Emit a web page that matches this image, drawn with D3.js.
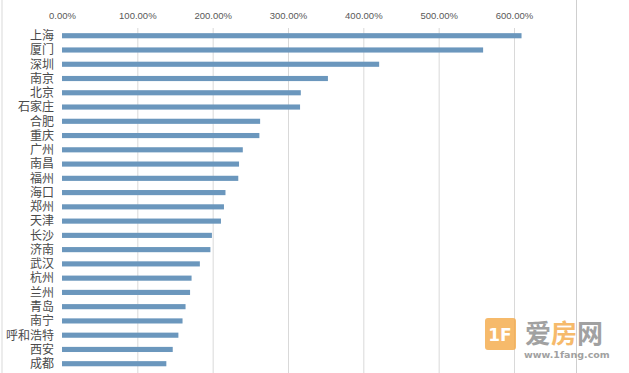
<!DOCTYPE html>
<html>
<head>
<meta charset="utf-8">
<script src="https://cdn.jsdelivr.net/npm/d3@7"></script>
<style>
  body { margin: 0; background: #fff; }
  svg { display: block; }
</style>
</head>
<body>
<div id="chart_container"></div>
<script>
var cities = ["上海", "厦门", "深圳", "南京", "北京", "石家庄", "合肥", "重庆", "广州", "南昌",
    "福州", "海口", "郑州", "天津", "长沙", "济南", "武汉", "杭州", "兰州", "青岛",
    "南宁", "呼和浩特", "西安", "成都"];
var growth = [6.10, 5.59, 4.21, 3.53, 3.17, 3.16, 2.63, 2.62, 2.40, 2.35,
    2.34, 2.17, 2.15, 2.11, 1.99, 1.97, 1.83, 1.72, 1.70, 1.64,
    1.60, 1.545, 1.47, 1.385];
var ticks = [0, 1, 2, 3, 4, 5, 6];

var width = 629, height = 373;

var svg = d3.select("#chart_container").append("svg")
    .attr("width", width)
    .attr("height", height);

var x = d3.scaleLinear()
    .domain([0, 6])
    .range([62, 514]);

var y = d3.scaleBand()
    .domain(cities)
    .range([28.6, 28.6 + 14.26 * cities.length])
    .paddingInner(0.64)
    .paddingOuter(0.32);

// chart frame
svg.append("line")
    .attr("x1", 2).attr("x2", 2)
    .attr("y1", 0).attr("y2", height)
    .attr("stroke", "#d9d9d9");
svg.append("line")
    .attr("x1", 576.5).attr("x2", 576.5)
    .attr("y1", 0).attr("y2", height)
    .attr("stroke", "#cfcfcf");

// gridlines
svg.append("g")
    .selectAll("line")
    .data(ticks.slice(1))
    .enter().append("line")
    .attr("x1", function(d) { return x(d) + 0.5; })
    .attr("x2", function(d) { return x(d) + 0.5; })
    .attr("y1", 28)
    .attr("y2", height)
    .attr("stroke", "#d9d9d9");

// top axis labels
var axis = d3.axisTop(x)
    .tickValues(ticks)
    .tickSize(0)
    .tickPadding(0)
    .tickFormat(function(d) { return (d * 100).toFixed(2) + "%"; });
var axisG = svg.append("g")
    .attr("transform", "translate(0,19)")
    .call(axis);
axisG.select(".domain").remove();
axisG.selectAll("text")
    .attr("fill", "#595959")
    .attr("font-family", "Liberation Sans, Arial, sans-serif")
    .attr("font-size", 9.5);

// bars
svg.append("g")
    .selectAll("rect")
    .data(cities)
    .enter().append("rect")
    .attr("x", x(0))
    .attr("y", function(d) { return y(d); })
    .attr("width", function(d, i) { return x(growth[i]) - x(0); })
    .attr("height", y.bandwidth())
    .attr("fill", "#6b97bd");

// category labels
svg.append("g")
    .selectAll("text")
    .data(cities)
    .enter().append("text")
    .attr("x", 54)
    .attr("y", function(d) { return y(d) + y.bandwidth() / 2; })
    .attr("dy", "0.36em")
    .attr("text-anchor", "end")
    .attr("fill", "#4a4a4a")
    .attr("font-family", "Noto Sans CJK SC, sans-serif")
    .attr("font-size", 12)
    .text(function(d) { return d; });

// watermark
var mark = svg.append("g").attr("opacity", 0.8);
mark.append("rect")
    .attr("x", 485).attr("y", 318)
    .attr("width", 31).attr("height", 32)
    .attr("rx", 3)
    .attr("fill", "#f4a947");
mark.append("text")
    .attr("x", 500).attr("y", 341)
    .attr("text-anchor", "middle")
    .attr("fill", "#fff")
    .attr("font-family", "DejaVu Sans, sans-serif")
    .attr("font-weight", "bold")
    .attr("font-size", 17)
    .text("1F");
var brand = mark.append("text")
    .attr("x", 525).attr("y", 343)
    .attr("font-family", "Noto Sans CJK SC, sans-serif")
    .attr("font-weight", "bold")
    .attr("font-size", 26);
brand.append("tspan").attr("fill", "#8a8a8a").text("爱");
brand.append("tspan").attr("fill", "#f4a947").text("房");
brand.append("tspan").attr("fill", "#8a8a8a").text("网");
mark.append("text")
    .attr("x", 524).attr("y", 358)
    .attr("fill", "#8a8a8a")
    .attr("font-family", "DejaVu Sans, sans-serif")
    .attr("font-weight", "bold")
    .attr("font-size", 9.5)
    .text("www.1fang.com");
</script>
</body>
</html>
